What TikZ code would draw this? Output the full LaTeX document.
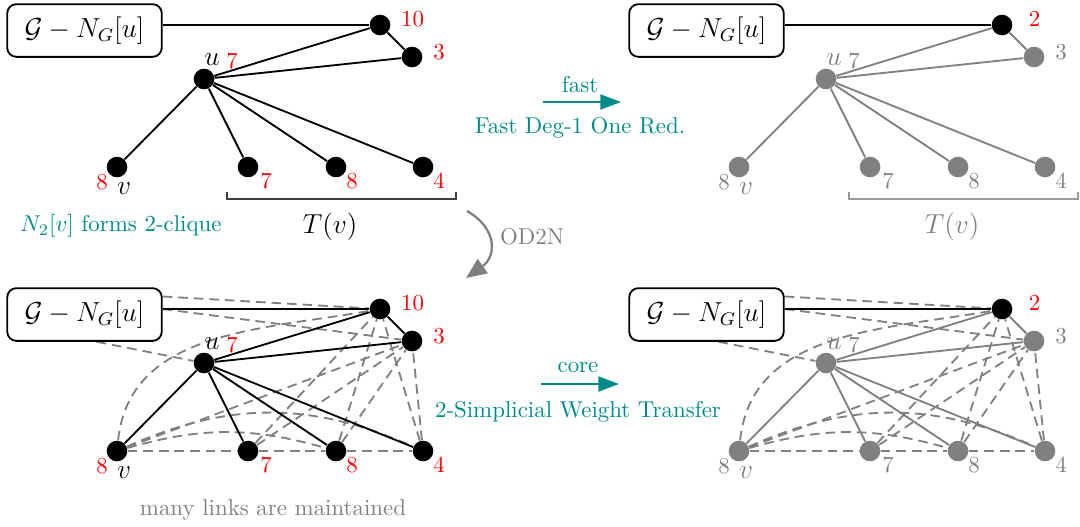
\documentclass[tikz,border=0pt]{standalone}
\usetikzlibrary{arrows.meta,calc}
\pgfdeclarelayer{bg}
\pgfsetlayers{bg,main}
\definecolor{tealc}{RGB}{0,138,138}
\newcommand\mydashes[1]{%
 \draw[dsh] (#1box.13) -- (#1a);
 \draw[dsh] (#1box.4) -- (#1b);
 \draw[dsh] (#1box.-66) -- (#1u);
 \draw[dsh] (#1v) to[out=84,in=190] (#1a);
 \draw[dsh] (#1v) -- (#1b);
 \draw[dsh] (#1v) to[bend left=24] (#1t3);
 \draw[dsh] (#1v) to[bend left=16] (#1t2);
 \draw[dsh] (#1v) -- (#1t1);
 \draw[dsh] (#1t1) -- (#1t2);
 \draw[dsh] (#1t2) -- (#1t3);
 \draw[dsh] (#1t1) -- (#1b);
 \draw[dsh] (#1t1) -- (#1a);
 \draw[dsh] (#1t2) -- (#1a);
 \draw[dsh] (#1t2) -- (#1b);
 \draw[dsh] (#1t3) -- (#1a);
 \draw[dsh] (#1t3) -- (#1b);
}
% #1 prefix, #2 dx, #3 dy, #4 top number, #5 vertex style, #6 number colour, #7 letter colour, #8 edge colour, #9 extra edges
\newcommand\mypanel[9]{%
\begin{scope}[shift={(#2,#3)}]
 \node[gbox] (#1box) at (84.5,-30.5) {$\mathcal{G}-N_G[u]$};
 \node[bvtx] (#1a) at (380,-25) {};
 \node[#5] (#1b) at (412,-57) {};
 \node[#5] (#1u) at (204,-79) {};
 \node[#5] (#1v) at (117,-167) {};
 \node[#5] (#1t1) at (248,-167) {};
 \node[#5] (#1t2) at (336,-167) {};
 \node[#5] (#1t3) at (423,-167) {};
 \node[lbl,text=red] (#1la) at (412.5,-19) {#4};
 \node[lbl,text=#6] (#1lb) at (439,-52) {3};
 \node[lbl,text=#7,font=\large] (#1lu) at (212,-60) {$u$};
 \node[lbl,text=#6] (#1lus) at (232,-61) {7};
 \node[lbl,text=#6] (#1lvs) at (102,-182) {8};
 \node[lbl,text=#7,font=\large] (#1lv) at (124,-189) {$v$};
 \node[lbl,text=#6] (#1l1) at (266,-181) {7};
 \node[lbl,text=#6] (#1l2) at (352,-181) {8};
 \node[lbl,text=#6] (#1l3) at (439,-181) {4};
 \begin{pgfonlayer}{bg}
  #9
  \draw[sedge] (#1a) -- (#1a -| #1box.east);
  \draw[sedge,#8] (#1a) -- (#1b) (#1u) -- (#1a) (#1u) -- (#1b) (#1u) -- (#1v)
     (#1u) -- (#1t1) (#1u) -- (#1t2) (#1u) -- (#1t3);
 \end{pgfonlayer}
\end{scope}}
\begin{document}
\begin{tikzpicture}[x=0.4367pt,y=0.4367pt,
  gbox/.style={draw,rounded corners=4pt,line width=0.8pt,minimum width=67.5pt,minimum height=23pt,inner sep=0pt,font=\large},
  bvtx/.style={circle,fill=black,inner sep=0pt,minimum size=9pt},
  gvtx/.style={circle,fill=gray,inner sep=0pt,minimum size=9pt},
  lbl/.style={inner sep=0pt},
  sedge/.style={line width=0.8pt},
  dsh/.style={gray,line width=0.8pt,dash pattern=on 4.2pt off 2.6pt},
  flow/.style={tealc,line width=1pt,-{Triangle[length=9pt,width=6.5pt]}},
  ftxt/.style={text=tealc,inner sep=0pt},
  brk/.style={line width=0.6pt},
]
\useasboundingbox (0,0) rectangle (1080,-526);

% top-left
\mypanel{A}{0}{0}{10}{bvtx}{red}{black}{black}{}
\draw[brk,black!75] ($(At1)+(-21,-25)$) coordinate (Abl) -- ++(0,-7) coordinate (Abl2)
  -- ($(At3)+(33,-32)$) coordinate (Abr2) -- ++(0,7) coordinate (Abr);
\node[lbl,font=\large] (AT) at (330,-227) {$T(v)$};
\node[lbl,text=tealc] (AN) at (121,-226) {$N_2[v]$ forms 2-clique};

% top-right
\mypanel{B}{622}{0}{2}{gvtx}{gray}{gray}{gray}{}
\draw[brk,gray!80] ($(Bt1)+(-21,-25)$) coordinate (Bbl) -- ++(0,-7) coordinate (Bbl2)
  -- ($(Bt3)+(33,-32)$) coordinate (Bbr2) -- ++(0,7) coordinate (Bbr);
\node[lbl,font=\large,text=gray] (BT) at (952,-227) {$T(v)$};

% bottom-left
\mypanel{C}{0}{-284}{10}{bvtx}{red}{black}{black}{\mydashes{C}}
\node[lbl,text=gray] (CM) at (273,-510) {many links are maintained};

% bottom-right
\mypanel{D}{622}{-284}{2}{gvtx}{gray}{gray}{gray}{\mydashes{D}}

% arrows
\coordinate (f1) at (543,-102);
\coordinate (f2) at (621,-102);
\draw[flow] (f1) -- (f2);
\node[ftxt] (fl) at (580,-85) {fast};
\node[ftxt] (fd) at (580,-128) {Fast Deg-1 One Red.};

\coordinate (c1) at (541,-384);
\coordinate (c2) at (619,-384);
\draw[flow] (c1) -- (c2);
\node[ftxt] (cl) at (578,-367) {core};
\node[ftxt] (cd) at (578,-412) {2-Simplicial Weight Transfer};

\coordinate (o1) at (467,-211);
\coordinate (o2) at (466,-278);
\draw[gray,line width=1pt,-{Triangle[length=9pt,width=7.5pt]}] (o1) .. controls (497,-228) and (497,-256) .. (o2);
\node[lbl,text=gray] (ol) at (532,-237) {OD2N};
\end{tikzpicture}
\end{document}
